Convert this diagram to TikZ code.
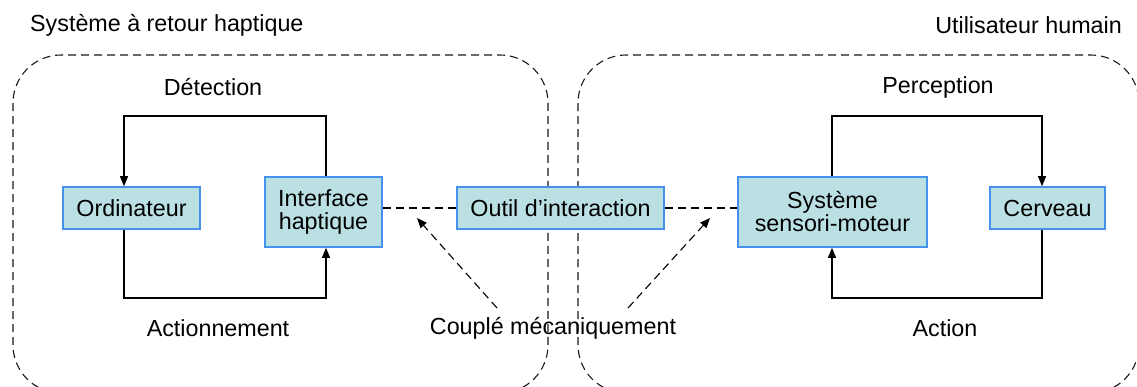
\documentclass[tikz,border=0pt]{standalone}
\usepackage{fontspec}
\setmainfont{Liberation Sans}
\usetikzlibrary{arrows.meta}
\definecolor{boxfill}{RGB}{187,224,228}
\definecolor{boxdraw}{RGB}{70,145,235}
\begin{document}
\begin{tikzpicture}[x=1pt,y=-1pt,
  font=\fontsize{23.3}{26}\selectfont,
  blk/.style={draw=boxdraw,fill=boxfill,line width=1.6pt,inner sep=0pt,align=center},
  grp/.style={draw=black!90,line width=1.1pt,dash pattern=on 8pt off 5pt,rounded corners=48pt},
  lnk/.style={draw=black,line width=1.1pt},
  dlnk/.style={draw=black,line width=1.1pt,dash pattern=on 8pt off 5pt},
  tip/.style={-{Triangle[length=10pt,width=8pt]}},
  lbl/.style={inner sep=0pt}]
\useasboundingbox (0,0) rectangle (1137,386);
\begin{scope}
\clip (0,0) rectangle (1137,386);
% groups
\draw[grp] (13,55) rectangle (548,393);
\draw[grp] (578,55) rectangle (1139,393);
\end{scope}
% titles
\node[lbl,anchor=west] (t1) at (30,25) {Système à retour haptique};
\node[lbl,anchor=east] (t2) at (1122,25) {Utilisateur humain};
% blocks
\node[blk,minimum width=137pt,minimum height=42pt] (ord) at (131.5,208) {Ordinateur};
\node[blk,minimum width=117pt,minimum height=70pt] (ih) at (323.5,212) {Interface\\[-3pt]haptique};
\node[blk,minimum width=207pt,minimum height=42pt] (out) at (560.5,208) {Outil d’interaction};
\node[blk,minimum width=189pt,minimum height=70pt] (ssm) at (832.5,212) {Système\\[-3pt]sensori-moteur};
\node[blk,minimum width=115pt,minimum height=42pt] (cer) at (1047.5,208) {Cerveau};
% labels
\node[lbl] (det) at (213,87) {Détection};
\node[lbl] (act) at (218,328) {Actionnement};
\node[lbl] (per) at (938,87) {Perception};
\node[lbl] (acn) at (945,328) {Action};
\node[lbl] (cpl) at (553,328) {Couplé mécaniquement};
% loops
\coordinate (a1) at (326,116);
\coordinate (a2) at (124,116);
\draw[lnk,tip] (ih.north -| a1) -- (a1) -- (a2) -- (ord.north -| a2);
\coordinate (b1) at (124,298);
\coordinate (b2) at (326,298);
\draw[lnk,tip] (ord.south -| b1) -- (b1) -- (b2) -- (ih.south -| b2);
\coordinate (c1) at (832,116);
\coordinate (c2) at (1042,116);
\draw[lnk,tip] (ssm.north -| c1) -- (c1) -- (c2) -- (cer.north -| c2);
\coordinate (d1) at (1042,298);
\coordinate (d2) at (832,298);
\draw[lnk,tip] (cer.south -| d1) -- (d1) -- (d2) -- (ssm.south -| d2);
% couplings
\draw[dlnk] (ih.east |- out.west) -- (out.west);
\draw[dlnk] (out.east) -- (ssm.west |- out.east);
\coordinate (e1) at (497,308);
\coordinate (e2) at (417,218);
\coordinate (f1) at (628,308);
\coordinate (f2) at (710,218);
\draw[dlnk,tip] (e1) -- (e2);
\draw[dlnk,tip] (f1) -- (f2);
\end{tikzpicture}
\end{document}
